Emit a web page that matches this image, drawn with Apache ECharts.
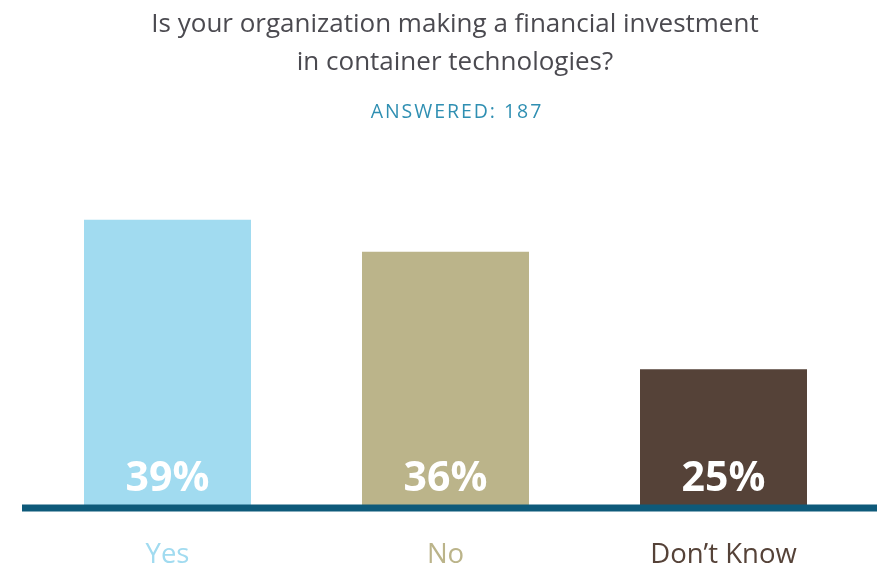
<!DOCTYPE html>
<html>
<head>
<meta charset="utf-8">
<script src="https://cdn.jsdelivr.net/npm/echarts@6/dist/echarts.min.js"></script>
<style>
  html, body { margin: 0; padding: 0; background: #ffffff; }
  #chart { width: 882px; height: 569px; }
</style>
</head>
<body>
<div id="chart"></div>
<script>
// Survey answers and their shares (percent)
const categories = ['Yes', 'No', 'Don\u2019t Know'];
const shares = [39, 36, 25];
const barColors = ['#a1dbf0', '#bbb48a', '#554238'];
const labelColors = ['#a1dbf0', '#bbb48a', '#554238'];

const titleText = 'Is your organization making a financial investment\nin container technologies?';
const subtitleText = 'ANSWERED: 187';

// Spread the subtitle letters apart with hair spaces
const spaced = subtitleText.split('').join('\u200A');

const chart = echarts.init(document.getElementById('chart'));

const option = {
  backgroundColor: '#ffffff',
  animation: false,
  title: [{
    text: titleText,
    left: 455,
    textAlign: 'center',
    top: 6,
    padding: 0,
    textStyle: {
      fontFamily: 'Open Sans',
      fontWeight: 'normal',
      fontSize: 26,
      lineHeight: 38,
      color: '#4b4a50'
    }
  }, {
    text: spaced,
    left: 456,
    textAlign: 'center',
    top: 102,
    padding: 0,
    textStyle: {
      fontFamily: 'Open Sans',
      fontWeight: 'normal',
      fontSize: 19.5,
      color: '#2f8fb2'
    }
  }],
  grid: { left: 28.5, right: 19.5, top: 219.8, bottom: 59.5 },
  xAxis: {
    type: 'category',
    data: categories,
    axisLine: { show: false },
    axisTick: { show: false },
    axisLabel: {
      margin: 33,
      fontFamily: 'Open Sans',
      fontSize: 27.5,
      color: function (value, index) { return labelColors[index]; }
    }
  },
  yAxis: {
    type: 'value',
    min: 12,
    max: 39,
    show: false,
    splitLine: { show: false }
  },
  series: [{
    type: 'bar',
    barWidth: 167,
    data: shares.map((v, i) => ({ value: v, itemStyle: { color: barColors[i] } })),
    label: {
      show: true,
      position: 'insideBottom',
      distance: 8,
      formatter: '{c}%',
      fontFamily: 'Open Sans',
      fontWeight: 'bold',
      fontSize: 41,
      color: '#ffffff'
    }
  }]
};

chart.setOption(option);

// Thick baseline under the bars, spanning the full chart width
const baseY = chart.convertToPixel({ yAxisIndex: 0 }, 12);
chart.setOption({
  graphic: [{
    type: 'line',
    shape: { x1: 22, y1: baseY, x2: 877, y2: baseY },
    style: { stroke: '#0e5a7a', lineWidth: 7 },
    z: 10
  }]
});
</script>
</body>
</html>
